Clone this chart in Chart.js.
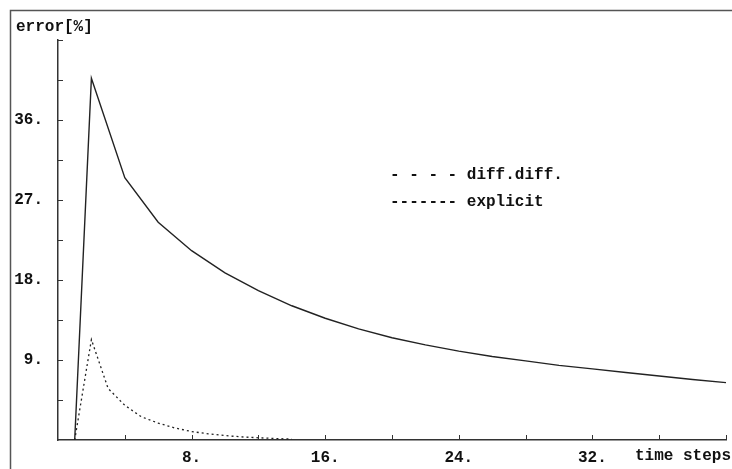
<!DOCTYPE html>
<html>
<head>
<meta charset="utf-8">
<script src="https://cdn.jsdelivr.net/npm/chart.js@4/dist/chart.umd.min.js"></script>
<style>
  html, body { margin: 0; padding: 0; background: #ffffff; }
  #wrap { width: 732px; height: 469px; }
</style>
</head>
<body>
<div id="wrap"><canvas id="c" width="732" height="469"></canvas></div>
<script>
// Error of the explicit scheme per time step
const explicitSteps = [1, 2, 4, 6, 8, 10, 12, 14, 16, 18, 20, 22, 24, 26, 28, 30, 32, 34, 36, 38, 40];
const explicitError = [0, 40.7, 29.5, 24.5, 21.3, 18.8, 16.8, 15.1, 13.7, 12.5, 11.5, 10.7, 10.0, 9.4, 8.9, 8.4, 8.0, 7.6, 7.2, 6.8, 6.45];

// Error of the diff.diff. scheme per time step
const diffSteps = [1, 2, 3, 4, 5, 6, 7, 8, 9, 10, 11, 12, 13, 14];
const diffError = [0, 11.3, 5.8, 3.9, 2.6, 1.9, 1.35, 0.95, 0.7, 0.5, 0.35, 0.25, 0.17, 0.1];

// Labelled tick values
const xLabelled = [8, 16, 24, 32];
const yLabelled = [9, 18, 27, 36];

const seriesNames = ['diff.diff.', 'explicit'];
const legendMarks = ['- - - -', '-------'];
const yTitle = 'error[%]';
const xTitle = 'time steps';

const FAMILY = '"Liberation Mono", "DejaVu Sans Mono", monospace';
const FONT = 'bold 16px ' + FAMILY;
const INK = '#111111';
const AXIS = '#333333';

function toPoints(xs, ys) {
  return xs.map((x, i) => ({ x: x, y: ys[i] }));
}

const decorations = {
  id: 'decorations',
  beforeDraw(chart) {
    const ctx = chart.ctx;
    ctx.save();
    ctx.fillStyle = '#ffffff';
    ctx.fillRect(0, 0, chart.width, chart.height);
    // frame around the plot
    ctx.strokeStyle = '#555555';
    ctx.lineWidth = 1.5;
    ctx.strokeRect(10.5, 10.5, 740, 480);
    ctx.restore();
  },
  afterDraw(chart) {
    const ctx = chart.ctx;
    const xs = chart.scales.x, ys = chart.scales.y;
    const area = chart.chartArea;
    ctx.save();
    // inward tick marks
    ctx.strokeStyle = AXIS;
    ctx.lineWidth = 1;
    ctx.beginPath();
    xs.ticks.forEach(t => {
      if (t.value === 0) return;
      const px = Math.round(xs.getPixelForValue(t.value)) + 0.5;
      ctx.moveTo(px, area.bottom);
      ctx.lineTo(px, area.bottom - 5);
    });
    ys.ticks.forEach(t => {
      if (t.value === 0) return;
      const py = Math.round(ys.getPixelForValue(t.value)) + 0.5;
      ctx.moveTo(area.left, py);
      ctx.lineTo(area.left + 5, py);
    });
    ctx.stroke();

    ctx.fillStyle = INK;
    ctx.font = FONT;
    // axis titles
    ctx.textAlign = 'left';
    ctx.textBaseline = 'alphabetic';
    ctx.fillText(yTitle, 16, 31);
    ctx.textAlign = 'right';
    ctx.textBaseline = 'middle';
    ctx.fillText(xTitle, 731, 456);

    // legend
    ctx.textAlign = 'left';
    ctx.textBaseline = 'middle';
    ctx.fillText(legendMarks[0] + ' ' + seriesNames[0], 390, 175);
    ctx.fillText(legendMarks[1] + ' ' + seriesNames[1], 390, 202);
    ctx.restore();
  }
};

new Chart(document.getElementById('c'), {
  type: 'line',
  data: {
    datasets: [
      {
        label: seriesNames[1],
        data: toPoints(explicitSteps, explicitError),
        borderColor: '#222222',
        borderWidth: 1.4,
        pointRadius: 0,
        tension: 0,
        fill: false
      },
      {
        label: seriesNames[0],
        data: toPoints(diffSteps, diffError),
        borderColor: '#222222',
        borderWidth: 1.3,
        borderDash: [2, 3],
        pointRadius: 0,
        tension: 0,
        fill: false
      }
    ]
  },
  options: {
    responsive: false,
    animation: false,
    events: [],
    layout: { padding: { top: 40, right: 6, left: 0, bottom: 0 } },
    plugins: {
      legend: { display: false },
      tooltip: { enabled: false },
      title: { display: false }
    },
    scales: {
      x: {
        type: 'linear',
        min: 0,
        max: 40,
        grid: { display: false },
        border: { display: true, color: AXIS, width: 1.5 },
        ticks: {
          stepSize: 4,
          autoSkip: false,
          maxRotation: 0,
          padding: 0,
          color: INK,
          font: { family: FAMILY, size: 16, weight: 'bold' },
          callback: v => xLabelled.includes(v) ? v + '.' : ''
        },
        afterFit: s => { s.height = 29; }
      },
      y: {
        type: 'linear',
        min: 0,
        max: 45,
        grid: { display: false },
        border: { display: true, color: AXIS, width: 1.5 },
        ticks: {
          stepSize: 4.5,
          autoSkip: false,
          padding: 7,
          color: INK,
          font: { family: FAMILY, size: 16, weight: 'bold' },
          callback: v => yLabelled.includes(v) ? v + '.' : ''
        },
        afterFit: s => { s.width = 58; }
      }
    }
  },
  plugins: [decorations]
});
</script>
</body>
</html>
